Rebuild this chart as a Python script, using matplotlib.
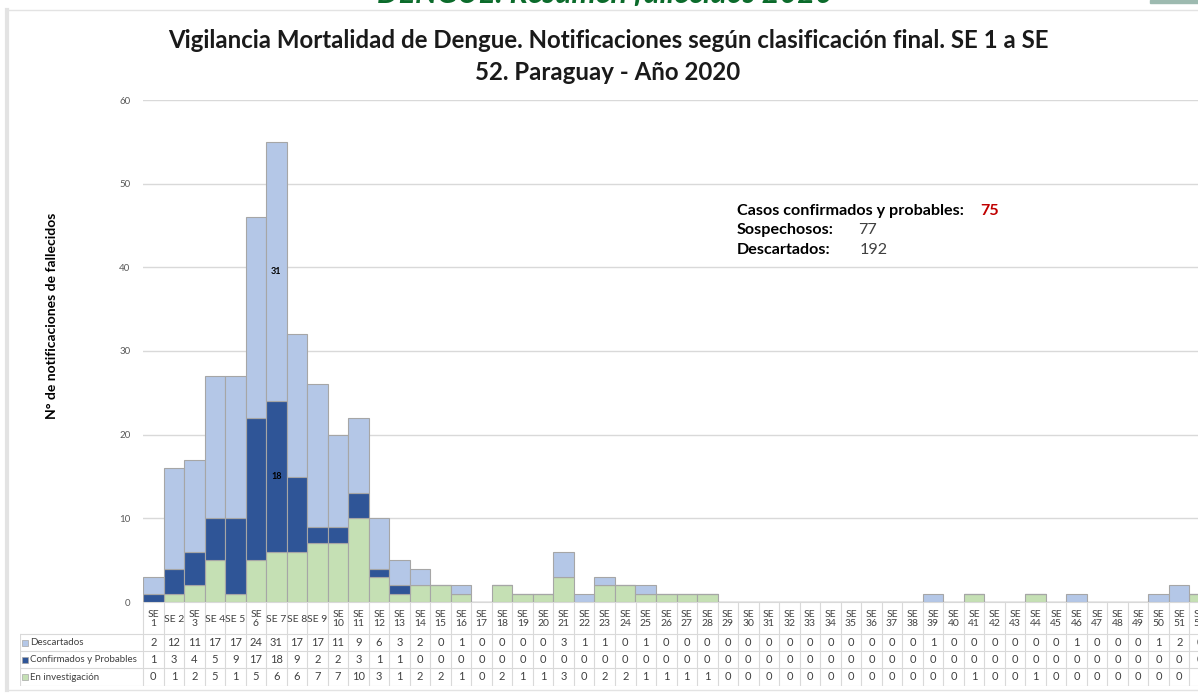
import matplotlib.pyplot as plt
from matplotlib.patches import Rectangle
from matplotlib.lines import Line2D

# Data (SE 1 .. SE 52)
semanas = ["SE %d" % i for i in range(1, 53)]
descartados = [2, 12, 11, 17, 17, 24, 31, 17, 17, 11, 9, 6, 3,
               2, 0, 1, 0, 0, 0, 0, 3, 1, 1, 0, 1, 0, 0, 0,
               0, 0, 0, 0, 0, 0, 0, 0, 0, 0,
               1, 0, 0, 0, 0, 0, 0, 1, 0, 0, 0, 1, 2, 0]
confirmados = [1, 3, 4, 5, 9, 17, 18, 9, 2, 2, 3, 1, 1] + [0] * 39
investigacion = [0, 1, 2, 5, 1, 5, 6, 6, 7, 7, 10, 3, 1,
                 2, 2, 1, 0, 2, 1, 1, 3, 0, 2, 2, 1, 1, 1, 1,
                 0, 0, 0, 0, 0, 0, 0, 0, 0, 0,
                 0, 0, 1, 0, 0, 1, 0, 0, 0, 0, 0, 0, 0, 1]
series = ["Descartados", "Confirmados y Probables", "En investigación"]
colores = ["#B4C7E7", "#2F5597", "#C5E0B4"]
# labels Excel kept on one line
una_linea = [2, 4, 5, 7, 8, 9]

W, H = 1198, 695
def fx(px):
    return px / W
def fy(py):
    return 1 - py / H

plt.rcParams['font.family'] = ['Lato', 'DejaVu Sans']

fig = plt.figure(figsize=(W / 100, H / 100), dpi=100)

# frame of the slide
fig.add_artist(Line2D([fx(7), fx(7)], [fy(10), fy(690)], color="#e3e3e3", lw=3))
fig.add_artist(Line2D([fx(7), 1], [fy(10), fy(10)], color="#e3e3e3", lw=1))
fig.add_artist(Line2D([fx(7), 1], [fy(690), fy(690)], color="#e3e3e3", lw=1))
fig.add_artist(Rectangle((fx(1150), fy(3)), fx(48), 3 / H, color="#9dbab0"))
fig.text(fx(605), fy(3), "DENGUE: Resumen fallecidos 2020", color="#0b6b2b",
         fontsize=22, fontweight="bold", style="italic", ha="center", va="baseline")

# titles
fig.text(fx(608), fy(40), "Vigilancia Mortalidad de Dengue. Notificaciones según clasificación final. SE 1 a SE",
         fontsize=17.3, fontweight="bold", ha="center", va="center", color="#1a1a1a")
fig.text(fx(608), fy(73), "52. Paraguay - Año 2020",
         fontsize=17.3, fontweight="bold", ha="center", va="center", color="#1a1a1a")

# main chart
ax = fig.add_axes([fx(143), fy(602), (1210 - 143) / W, (602 - 100) / H])
x = list(range(len(semanas)))
bottom2 = investigacion
bottom3 = [a + b for a, b in zip(investigacion, confirmados)]
ax.bar(x, investigacion, width=1.0, color=colores[2], edgecolor="#a6a6a6", linewidth=0.8, zorder=3)
ax.bar(x, confirmados, bottom=bottom2, width=1.0, color=colores[1], edgecolor="#a6a6a6", linewidth=0.8, zorder=3)
ax.bar(x, descartados, bottom=bottom3, width=1.0, color=colores[0], edgecolor="#a6a6a6", linewidth=0.8, zorder=3)

ax.text(6, bottom3[6] + descartados[6] / 2, str(descartados[6]), ha="center", va="center",
        fontsize=6.5, fontweight="bold", zorder=4)
ax.text(6, bottom2[6] + confirmados[6] / 2, str(confirmados[6]), ha="center", va="center",
        fontsize=6.5, fontweight="bold", zorder=4)

ax.set_xlim(-0.5, 51.5)
ax.set_ylim(0, 60)
ax.set_yticks(range(0, 61, 10))
ax.set_xticks([])
ax.yaxis.grid(True, color="#d9d9d9", lw=1, zorder=0)
ax.tick_params(axis="y", length=0, labelsize=7, labelcolor="#595959", pad=9)
for s in ["top", "right", "left"]:
    ax.spines[s].set_visible(False)
ax.spines["bottom"].set_color("#d9d9d9")
ax.set_ylabel("N° de notificaciones de fallecidos", fontsize=10, fontweight="bold")
ax.yaxis.set_label_coords(fx(58 - 143) / ((1210 - 143) / W), 0.57)

# summary text
fig.text(fx(737), fy(211), "Casos confirmados y probables:", fontsize=11.6, fontweight="bold", va="center")
fig.text(fx(980), fy(211), str(sum(confirmados)), fontsize=11.6, fontweight="bold", va="center", color="#c00000")
fig.text(fx(737), fy(230), "Sospechosos:", fontsize=11.6, fontweight="bold", va="center")
fig.text(fx(858), fy(230), str(sum(investigacion)), fontsize=11.6, va="center", color="#404040")
fig.text(fx(737), fy(250), "Descartados:", fontsize=11.6, fontweight="bold", va="center")
fig.text(fx(860), fy(250), "192", fontsize=11.6, va="center", color="#404040")

# data table
tab = fig.add_axes([fx(20), fy(686), (1210 - 20) / W, (686 - 603) / H])
tab.set_xlim(-6.5, 51.5)
tab.set_ylim(686, 603)
tab.axis("off")
lc = "#d9d9d9"
for i in range(53):
    tab.plot([i - 0.5, i - 0.5], [603, 686], color=lc, lw=0.8)
tab.plot([-6.5, -6.5], [634, 686], color=lc, lw=0.8)
for yy in [634, 651, 668, 686]:
    tab.plot([-6.5, 51.5], [yy, yy], color=lc, lw=0.8)

for i, s in enumerate(semanas):
    n = i + 1
    lab = s if n in una_linea else "SE\n%d" % n
    tab.text(i, 619, lab, ha="center", va="center", fontsize=7.5, color="#404040", linespacing=1.05)

filas = [descartados, confirmados, investigacion]
centros = [642.5, 659.5, 677]
for r in range(3):
    tab.add_patch(Rectangle((-6.4, centros[r] - 3), 0.29, 6, facecolor=colores[r],
                            edgecolor="#a6a6a6", lw=0.5))
    tab.text(-6.0, centros[r], series[r], ha="left", va="center", fontsize=7, color="#404040")
    for i, v in enumerate(filas[r]):
        tab.text(i, centros[r], str(v), ha="center", va="center", fontsize=8, color="#404040")

fig.savefig("out.png", dpi=100)
